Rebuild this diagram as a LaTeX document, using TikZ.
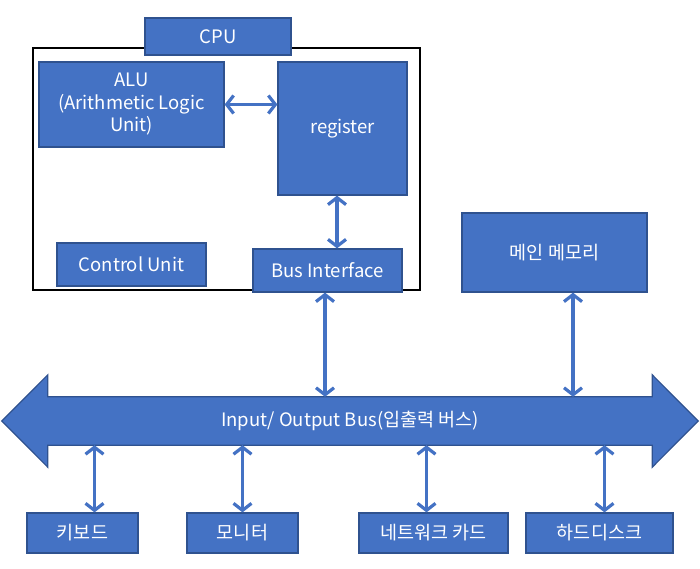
\documentclass[tikz,border=0pt]{standalone}
\usepackage{fontspec}
\setmainfont{Noto Sans CJK KR}
\usetikzlibrary{arrows.meta,calc}
\definecolor{boxblue}{RGB}{68,114,196}
\definecolor{boxedge}{RGB}{47,82,143}

\begin{document}
\begin{tikzpicture}[x=1pt,y=-1pt,
  unit/.style={draw=boxedge, line width=1.2pt, fill=boxblue, text=white,
    font=\fontsize{18.5}{22.5}\selectfont, inner sep=0pt, align=center},
  link/.style={{Straight Barb[length=7pt,width=18pt]}-{Straight Barb[length=7pt,width=18pt]},
    line width=3.2pt, boxblue}]
  \useasboundingbox (0,0) rectangle (700,569);
  % CPU
  \node[draw, line width=1.2pt, minimum width=387pt, minimum height=242pt] (cpu) at (226.5,169) {};
  \node[unit, minimum width=146pt, minimum height=37pt] (cpulabel) at (218,36.5) {CPU};
  \node[unit, minimum width=185pt, minimum height=85pt] (alu) at (131.5,104.5)
    {ALU\\(Arithmetic Logic\\Unit)};
  \node[unit, minimum width=129pt, minimum height=133pt] (reg) at (342.5,128.5) {register};
  \node[unit, minimum width=149pt, minimum height=43pt] (cu) at (131.5,264.5) {Control Unit};
  \node[unit, minimum width=149pt, minimum height=43pt] (bi) at (327.5,270.5) {Bus Interface};
  % memory
  \node[unit, minimum width=185pt, minimum height=79pt] (mem) at (554.5,252.5) {메인 메모리};
  % bus
  \node[minimum width=604pt, minimum height=48pt, inner sep=0pt] (bus) at (350,421) {};
  \filldraw[draw=boxedge, line width=1.2pt, fill=boxblue]
    (bus.north west) -- ([yshift=22pt]bus.north west) -- ([xshift=-46pt]bus.west)
    -- ([yshift=-22pt]bus.south west) -- (bus.south west) -- (bus.south east)
    -- ([yshift=-22pt]bus.south east) -- ([xshift=46pt]bus.east)
    -- ([yshift=22pt]bus.north east) -- (bus.north east) -- cycle;
  \node[text=white, font=\fontsize{18.5}{22.5}\selectfont] (buslabel) at (bus) {Input/ Output Bus(입출력 버스)};
  % devices
  \node[unit, minimum width=111pt, minimum height=40pt] (kbd) at (82.5,533) {키보드};
  \node[unit, minimum width=111pt, minimum height=40pt] (mon) at (242.5,533) {모니터};
  \node[unit, minimum width=149pt, minimum height=40pt] (nic) at (433.5,533) {네트워크 카드};
  \node[unit, minimum width=147pt, minimum height=40pt] (hdd) at (599.5,533) {하드디스크};
  % links
  \draw[link] (alu.east) -- (alu.east -| reg.west);
  \draw[link] ([xshift=-5.5pt]reg.south) -- ([xshift=-5.5pt]reg.south |- bi.north);
  \draw[link] ([xshift=-2.5pt]bi.south) -- ([xshift=-2.5pt]bi.south |- bus.north);
  \draw[link] ([xshift=18.5pt]mem.south) -- ([xshift=18.5pt]mem.south |- bus.north);
  \draw[link] ([xshift=12pt]kbd.north |- bus.south) -- ([xshift=12pt]kbd.north);
  \draw[link] (mon.north |- bus.south) -- (mon.north);
  \draw[link] ([xshift=-7pt]nic.north |- bus.south) -- ([xshift=-7pt]nic.north);
  \draw[link] ([xshift=5pt]hdd.north |- bus.south) -- ([xshift=5pt]hdd.north);
\end{tikzpicture}
\end{document}
